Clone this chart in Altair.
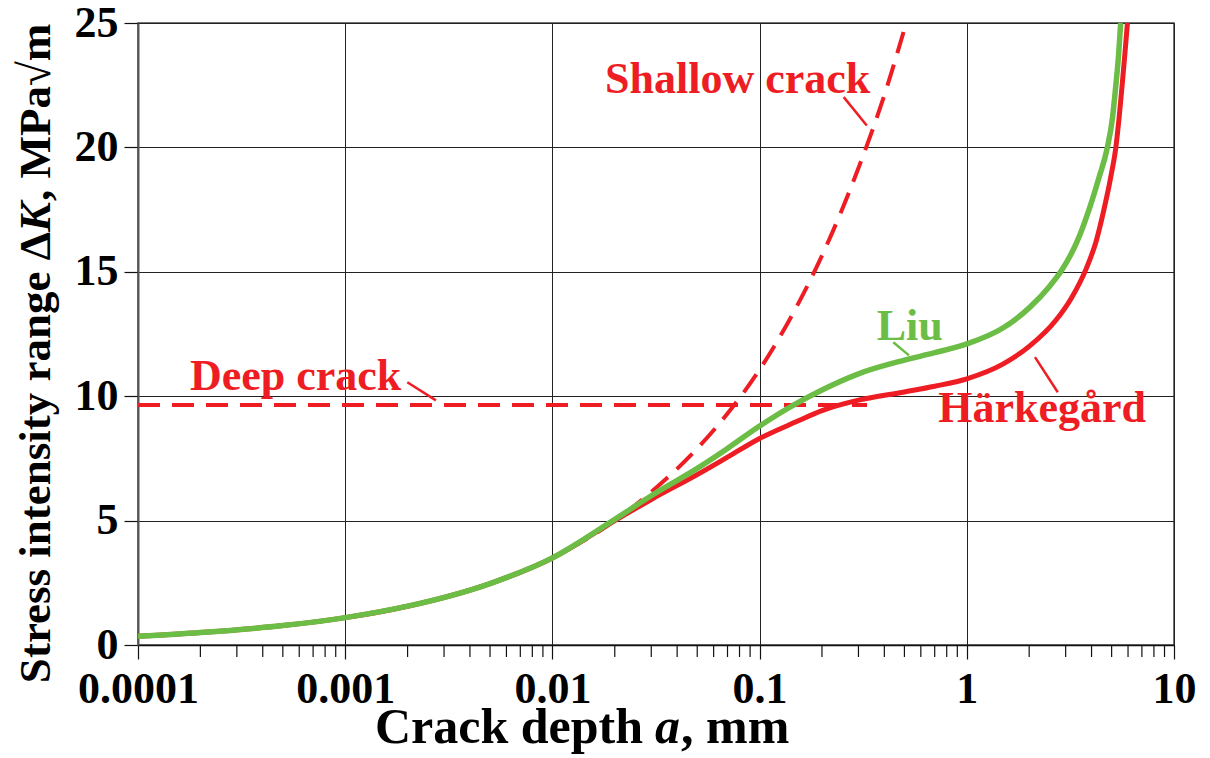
import altair as alt
import pandas as pd

# Crack depth a (mm) and stress intensity range dK (MPa*sqrt(m))
liu_a = [0.0001, 0.0002, 0.0005, 0.001, 0.002, 0.005, 0.01, 0.02, 0.03, 0.05, 0.07,
         0.1, 0.15, 0.2, 0.3, 0.5, 0.7, 1.0, 1.5, 2.0, 2.5, 2.89, 3.4, 3.89,
         4.35, 4.77, 5.05, 5.24, 5.4, 5.53]
liu_k = [0.35, 0.50, 0.78, 1.10, 1.56, 2.47, 3.50, 5.05, 6.00, 7.10, 7.90,
         8.80, 9.70, 10.25, 10.90, 11.45, 11.75, 12.10, 12.75, 13.55, 14.40, 15.10, 16.20, 17.50,
         18.80, 20.00, 21.20, 22.50, 23.70, 25.00]

hark_a = [0.0001, 0.0002, 0.0005, 0.001, 0.002, 0.005, 0.01, 0.02, 0.03, 0.05, 0.07,
          0.1, 0.15, 0.2, 0.3, 0.5, 0.7, 1.0, 1.5, 2.0, 2.69, 3.2, 3.78, 4.2, 4.59,
          4.95, 5.24, 5.45, 5.62, 5.8, 5.96]
hark_k = [0.35, 0.50, 0.78, 1.10, 1.56, 2.47, 3.50, 5.00, 5.85, 6.85, 7.55,
          8.30, 8.97, 9.42, 9.84, 10.17, 10.40, 10.70, 11.30, 12.00, 13.05, 13.95, 15.15, 16.20, 17.50,
          18.80, 20.00, 21.30, 22.50, 23.80, 25.00]

shallow_a = [0.0001, 0.0003, 0.001, 0.003, 0.01, 0.02, 0.03, 0.05, 0.07, 0.1, 0.15,
             0.2, 0.3, 0.4, 0.51]
shallow_k = [0.35, 0.61, 1.10, 1.92, 3.50, 5.00, 6.15, 7.90, 9.30, 11.07, 13.56,
             15.65, 19.17, 22.10, 25.00]

deep_a = [0.0001, 0.33]
deep_k = [9.65, 9.65]

# Minor tick positions on the logarithmic depth axis
minor_ticks = [m * 10.0 ** e for e in range(-4, 1) for m in range(2, 10)]
major_ticks = [0.0001, 0.001, 0.01, 0.1, 1, 10]

# Curve labels: text, anchor (a, K), colour
label_text = ["Shallow crack", "Deep crack", "Liu", "Härkegård"]
label_a = [0.01795, 0.000178, 0.3675, 0.728]
label_k = [22.18, 10.23, 12.24, 8.955]
label_color = ["#EE1D23", "#EE1D23", "#6CBD45", "#EE1D23"]

# Leader lines from each label to its curve
leader_a1 = [0.2547, 0.001994, 0.4418, 2.133]
leader_k1 = [22.02, 10.56, 12.17, 11.57]
leader_a2 = [0.329, 0.002741, 0.526, 2.748]
leader_k2 = [20.88, 9.83, 11.64, 10.16]

RED = "#EE1D23"
GREEN = "#6CBD45"
FONT = "Liberation Serif"
W, H = 1036, 622

xs = alt.Scale(type="log", domain=[0.0001, 10])
ys = alt.Scale(domain=[0, 25])

liu = pd.DataFrame({"a": liu_a, "K": liu_k})
hark = pd.DataFrame({"a": hark_a, "K": hark_k})
shallow = pd.DataFrame({"a": shallow_a, "K": shallow_k})
deep = pd.DataFrame({"a": deep_a, "K": deep_k})
minor = pd.DataFrame({"a": minor_ticks})
labels = pd.DataFrame({"txt": label_text, "a": label_a, "K": label_k, "c": label_color})
leaders = pd.DataFrame({"a": leader_a1, "K": leader_k1, "a2": leader_a2, "K2": leader_k2,
                        "c": label_color})

x_axis = alt.Axis(values=major_ticks, format="~g", grid=True, gridColor="#222", gridWidth=1,
                  tickSize=14, tickColor="#111", tickWidth=1.2, domainColor="#111",
                  domainWidth=1.5, labelFont=FONT, labelFontSize=44, labelFontWeight="bold",
                  labelColor="#000", labelPadding=8, labelFlush=False, labelOverlap=False)
y_axis = alt.Axis(values=[0, 5, 10, 15, 20, 25], grid=True, gridColor="#222", gridWidth=1,
                  tickSize=14, tickColor="#111", tickWidth=1.2, domainColor="#555",
                  domainWidth=2, labelFont=FONT, labelFontSize=44, labelFontWeight="bold",
                  labelColor="#000", labelPadding=6)

base_x = alt.X("a:Q", scale=xs, axis=x_axis, title="")
base_y = alt.Y("K:Q", scale=ys, axis=y_axis, title="")

deep_line = alt.Chart(deep).mark_line(color=RED, strokeWidth=4, strokeDash=[22, 12]).encode(
    x=base_x, y=base_y)
shallow_line = alt.Chart(shallow).mark_line(color=RED, strokeWidth=4, strokeDash=[22, 12],
                                            interpolate="monotone", clip=True).encode(
    x=alt.X("a:Q", scale=xs), y=alt.Y("K:Q", scale=ys))
hark_line = alt.Chart(hark).mark_line(color=RED, strokeWidth=5, interpolate="monotone",
                                      clip=True).encode(
    x=alt.X("a:Q", scale=xs), y=alt.Y("K:Q", scale=ys))
liu_line = alt.Chart(liu).mark_line(color=GREEN, strokeWidth=5.5, interpolate="monotone",
                                    clip=True).encode(
    x=alt.X("a:Q", scale=xs), y=alt.Y("K:Q", scale=ys))

minor_rules = alt.Chart(minor).mark_rule(color="#111", strokeWidth=1.2).encode(
    x=alt.X("a:Q", scale=xs), y=alt.value(H), y2=alt.value(H + 12))

leader_rules = alt.Chart(leaders).mark_rule(strokeWidth=2.5).encode(
    x=alt.X("a:Q", scale=xs), y=alt.Y("K:Q", scale=ys), x2="a2:Q", y2="K2:Q",
    color=alt.Color("c:N", scale=None))

label_marks = alt.Chart(labels).mark_text(font=FONT, fontSize=44, fontWeight="bold",
                                          align="left", baseline="alphabetic").encode(
    x=alt.X("a:Q", scale=xs), y=alt.Y("K:Q", scale=ys), text="txt:N",
    color=alt.Color("c:N", scale=None))

# Axis titles, assembled from pieces so the variable names can be italic
one = pd.DataFrame({"k": [0]})
xt_y = 743 - 23
xa = 655 - 138
x_title = [
    alt.Chart(one).mark_text(text="Crack depth", font=FONT, fontSize=50, fontWeight="bold",
                             align="right", baseline="alphabetic", color="#000").encode(
        x=alt.value(xa - 12), y=alt.value(xt_y)),
    alt.Chart(one).mark_text(text="a", font=FONT, fontSize=50, fontWeight="bold",
                             fontStyle="italic", align="left", baseline="alphabetic",
                             color="#000").encode(x=alt.value(xa), y=alt.value(xt_y)),
    alt.Chart(one).mark_text(text=", mm", font=FONT, fontSize=50, fontWeight="bold",
                             align="left", baseline="alphabetic", color="#000").encode(
        x=alt.value(xa + 26), y=alt.value(xt_y)),
]
yt_x = 50 - 138
yk = 232 - 23
y_title = [
    alt.Chart(one).mark_text(text="Stress intensity range Δ", font=FONT, fontSize=45,
                             fontWeight="bold", align="right", baseline="alphabetic",
                             angle=270, color="#000").encode(
        x=alt.value(yt_x), y=alt.value(yk)),
    alt.Chart(one).mark_text(text="K", font=FONT, fontSize=45, fontWeight="bold",
                             fontStyle="italic", align="left", baseline="alphabetic",
                             angle=270, color="#000").encode(
        x=alt.value(yt_x), y=alt.value(yk)),
    alt.Chart(one).mark_text(text=", MPa√m", font=FONT, fontSize=45, fontWeight="bold",
                             align="left", baseline="alphabetic", angle=270,
                             color="#000").encode(
        x=alt.value(yt_x), y=alt.value(yk - 31)),
]

chart = alt.layer(
    deep_line, shallow_line, hark_line, liu_line, minor_rules, leader_rules, label_marks,
    *x_title, *y_title,
).properties(
    width=W, height=H,
    autosize=alt.AutoSizeParams(type="none"),
    padding={"left": 138, "top": 23, "right": 1210 - 138 - W, "bottom": 758 - 23 - H},
    background="white",
).configure_view(
    stroke="#444", strokeWidth=1.5
)

chart.save("out.html", embed_options={"renderer": "svg", "actions": False})
